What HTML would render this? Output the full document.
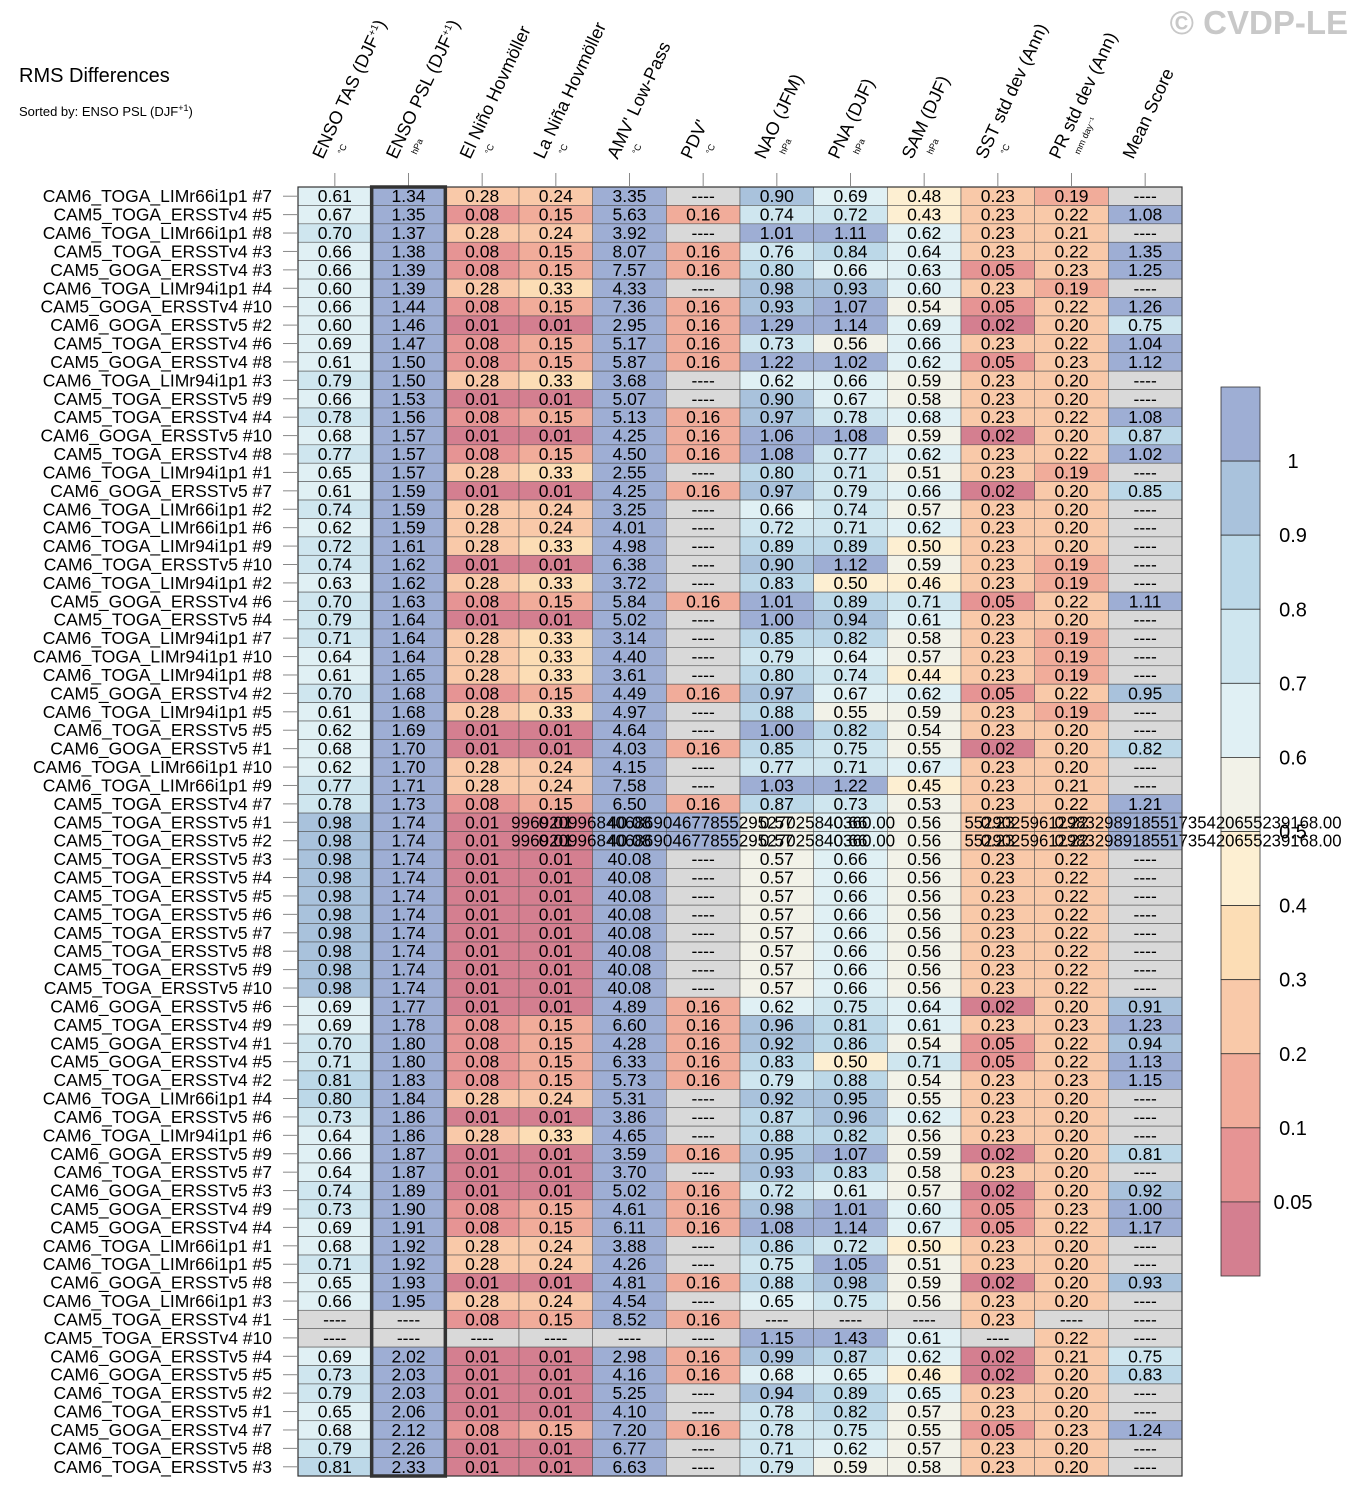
<!DOCTYPE html>
<html><head><meta charset="utf-8"><style>
html,body{margin:0;padding:0;background:#fff;}
svg{display:block;font-family:"Liberation Sans",sans-serif;}
</style></head><body>
<svg id="chart" width="1358" height="1498" xmlns="http://www.w3.org/2000/svg">
<text x="19" y="82" font-size="20">RMS Differences</text>
<text x="19" y="116" font-size="13">Sorted by: ENSO PSL (DJF<tspan dy="-5" font-size="9">+1</tspan><tspan dy="5">)</tspan></text>
<text x="1348" y="34" font-size="33" font-weight="bold" fill="#c8c8c8" text-anchor="end">© CVDP-LE</text>
<g id="cbar"></g><g id="hdr"></g><g id="cells"></g><g id="rows"></g>
</svg>
<script>
const columns=["ENSO TAS (DJF+1)","ENSO PSL (DJF+1)","El Niño Hovmöller","La Niña Hovmöller","AMV' Low-Pass","PDV'","NAO (JFM)","PNA (DJF)","SAM (DJF)","SST std dev (Ann)","PR std dev (Ann)","Mean Score"];
const units=["°C","hPa","°C","°C","°C","°C","hPa","hPa","hPa","°C","mm day⁻¹",""];
const rowNames=["CAM6_TOGA_LIMr66i1p1 #7","CAM5_TOGA_ERSSTv4 #5","CAM6_TOGA_LIMr66i1p1 #8","CAM5_TOGA_ERSSTv4 #3","CAM5_GOGA_ERSSTv4 #3","CAM6_TOGA_LIMr94i1p1 #4","CAM5_GOGA_ERSSTv4 #10","CAM6_GOGA_ERSSTv5 #2","CAM5_TOGA_ERSSTv4 #6","CAM5_GOGA_ERSSTv4 #8","CAM6_TOGA_LIMr94i1p1 #3","CAM5_TOGA_ERSSTv5 #9","CAM5_TOGA_ERSSTv4 #4","CAM6_GOGA_ERSSTv5 #10","CAM5_TOGA_ERSSTv4 #8","CAM6_TOGA_LIMr94i1p1 #1","CAM6_GOGA_ERSSTv5 #7","CAM6_TOGA_LIMr66i1p1 #2","CAM6_TOGA_LIMr66i1p1 #6","CAM6_TOGA_LIMr94i1p1 #9","CAM6_TOGA_ERSSTv5 #10","CAM6_TOGA_LIMr94i1p1 #2","CAM5_GOGA_ERSSTv4 #6","CAM5_TOGA_ERSSTv5 #4","CAM6_TOGA_LIMr94i1p1 #7","CAM6_TOGA_LIMr94i1p1 #10","CAM6_TOGA_LIMr94i1p1 #8","CAM5_GOGA_ERSSTv4 #2","CAM6_TOGA_LIMr94i1p1 #5","CAM6_TOGA_ERSSTv5 #5","CAM6_GOGA_ERSSTv5 #1","CAM6_TOGA_LIMr66i1p1 #10","CAM6_TOGA_LIMr66i1p1 #9","CAM5_TOGA_ERSSTv4 #7","CAM5_TOGA_ERSSTv5 #1","CAM5_TOGA_ERSSTv5 #2","CAM5_TOGA_ERSSTv5 #3","CAM5_TOGA_ERSSTv5 #4","CAM5_TOGA_ERSSTv5 #5","CAM5_TOGA_ERSSTv5 #6","CAM5_TOGA_ERSSTv5 #7","CAM5_TOGA_ERSSTv5 #8","CAM5_TOGA_ERSSTv5 #9","CAM5_TOGA_ERSSTv5 #10","CAM6_GOGA_ERSSTv5 #6","CAM5_TOGA_ERSSTv4 #9","CAM5_GOGA_ERSSTv4 #1","CAM5_GOGA_ERSSTv4 #5","CAM5_TOGA_ERSSTv4 #2","CAM6_TOGA_LIMr66i1p1 #4","CAM6_TOGA_ERSSTv5 #6","CAM6_TOGA_LIMr94i1p1 #6","CAM6_GOGA_ERSSTv5 #9","CAM6_TOGA_ERSSTv5 #7","CAM6_GOGA_ERSSTv5 #3","CAM5_GOGA_ERSSTv4 #9","CAM5_GOGA_ERSSTv4 #4","CAM6_TOGA_LIMr66i1p1 #1","CAM6_TOGA_LIMr66i1p1 #5","CAM6_GOGA_ERSSTv5 #8","CAM6_TOGA_LIMr66i1p1 #3","CAM5_TOGA_ERSSTv4 #1","CAM5_TOGA_ERSSTv4 #10","CAM6_GOGA_ERSSTv5 #4","CAM6_GOGA_ERSSTv5 #5","CAM6_TOGA_ERSSTv5 #2","CAM6_TOGA_ERSSTv5 #1","CAM5_GOGA_ERSSTv4 #7","CAM6_TOGA_ERSSTv5 #8","CAM6_TOGA_ERSSTv5 #3"];
const B="99692099684068690467785529527025840360.00", M="55290259612983298918551735420655239168.00";
const rowValues=[
"0.61 1.34 0.28 0.24 3.35 - 0.90 0.69 0.48 0.23 0.19 -",
"0.67 1.35 0.08 0.15 5.63 0.16 0.74 0.72 0.43 0.23 0.22 1.08",
"0.70 1.37 0.28 0.24 3.92 - 1.01 1.11 0.62 0.23 0.21 -",
"0.66 1.38 0.08 0.15 8.07 0.16 0.76 0.84 0.64 0.23 0.22 1.35",
"0.66 1.39 0.08 0.15 7.57 0.16 0.80 0.66 0.63 0.05 0.23 1.25",
"0.60 1.39 0.28 0.33 4.33 - 0.98 0.93 0.60 0.23 0.19 -",
"0.66 1.44 0.08 0.15 7.36 0.16 0.93 1.07 0.54 0.05 0.22 1.26",
"0.60 1.46 0.01 0.01 2.95 0.16 1.29 1.14 0.69 0.02 0.20 0.75",
"0.69 1.47 0.08 0.15 5.17 0.16 0.73 0.56 0.66 0.23 0.22 1.04",
"0.61 1.50 0.08 0.15 5.87 0.16 1.22 1.02 0.62 0.05 0.23 1.12",
"0.79 1.50 0.28 0.33 3.68 - 0.62 0.66 0.59 0.23 0.20 -",
"0.66 1.53 0.01 0.01 5.07 - 0.90 0.67 0.58 0.23 0.20 -",
"0.78 1.56 0.08 0.15 5.13 0.16 0.97 0.78 0.68 0.23 0.22 1.08",
"0.68 1.57 0.01 0.01 4.25 0.16 1.06 1.08 0.59 0.02 0.20 0.87",
"0.77 1.57 0.08 0.15 4.50 0.16 1.08 0.77 0.62 0.23 0.22 1.02",
"0.65 1.57 0.28 0.33 2.55 - 0.80 0.71 0.51 0.23 0.19 -",
"0.61 1.59 0.01 0.01 4.25 0.16 0.97 0.79 0.66 0.02 0.20 0.85",
"0.74 1.59 0.28 0.24 3.25 - 0.66 0.74 0.57 0.23 0.20 -",
"0.62 1.59 0.28 0.24 4.01 - 0.72 0.71 0.62 0.23 0.20 -",
"0.72 1.61 0.28 0.33 4.98 - 0.89 0.89 0.50 0.23 0.20 -",
"0.74 1.62 0.01 0.01 6.38 - 0.90 1.12 0.59 0.23 0.19 -",
"0.63 1.62 0.28 0.33 3.72 - 0.83 0.50 0.46 0.23 0.19 -",
"0.70 1.63 0.08 0.15 5.84 0.16 1.01 0.89 0.71 0.05 0.22 1.11",
"0.79 1.64 0.01 0.01 5.02 - 1.00 0.94 0.61 0.23 0.20 -",
"0.71 1.64 0.28 0.33 3.14 - 0.85 0.82 0.58 0.23 0.19 -",
"0.64 1.64 0.28 0.33 4.40 - 0.79 0.64 0.57 0.23 0.19 -",
"0.61 1.65 0.28 0.33 3.61 - 0.80 0.74 0.44 0.23 0.19 -",
"0.70 1.68 0.08 0.15 4.49 0.16 0.97 0.67 0.62 0.05 0.22 0.95",
"0.61 1.68 0.28 0.33 4.97 - 0.88 0.55 0.59 0.23 0.19 -",
"0.62 1.69 0.01 0.01 4.64 - 1.00 0.82 0.54 0.23 0.20 -",
"0.68 1.70 0.01 0.01 4.03 0.16 0.85 0.75 0.55 0.02 0.20 0.82",
"0.62 1.70 0.28 0.24 4.15 - 0.77 0.71 0.67 0.23 0.20 -",
"0.77 1.71 0.28 0.24 7.58 - 1.03 1.22 0.45 0.23 0.21 -",
"0.78 1.73 0.08 0.15 6.50 0.16 0.87 0.73 0.53 0.23 0.22 1.21",
"0.98 1.74 0.01 0.01 40.08 BIG 0.57 0.66 0.56 0.23 0.22 BIGM",
"0.98 1.74 0.01 0.01 40.08 BIG 0.57 0.66 0.56 0.23 0.22 BIGM",
"0.98 1.74 0.01 0.01 40.08 - 0.57 0.66 0.56 0.23 0.22 -",
"0.98 1.74 0.01 0.01 40.08 - 0.57 0.66 0.56 0.23 0.22 -",
"0.98 1.74 0.01 0.01 40.08 - 0.57 0.66 0.56 0.23 0.22 -",
"0.98 1.74 0.01 0.01 40.08 - 0.57 0.66 0.56 0.23 0.22 -",
"0.98 1.74 0.01 0.01 40.08 - 0.57 0.66 0.56 0.23 0.22 -",
"0.98 1.74 0.01 0.01 40.08 - 0.57 0.66 0.56 0.23 0.22 -",
"0.98 1.74 0.01 0.01 40.08 - 0.57 0.66 0.56 0.23 0.22 -",
"0.98 1.74 0.01 0.01 40.08 - 0.57 0.66 0.56 0.23 0.22 -",
"0.69 1.77 0.01 0.01 4.89 0.16 0.62 0.75 0.64 0.02 0.20 0.91",
"0.69 1.78 0.08 0.15 6.60 0.16 0.96 0.81 0.61 0.23 0.23 1.23",
"0.70 1.80 0.08 0.15 4.28 0.16 0.92 0.86 0.54 0.05 0.22 0.94",
"0.71 1.80 0.08 0.15 6.33 0.16 0.83 0.50 0.71 0.05 0.22 1.13",
"0.81 1.83 0.08 0.15 5.73 0.16 0.79 0.88 0.54 0.23 0.23 1.15",
"0.80 1.84 0.28 0.24 5.31 - 0.92 0.95 0.55 0.23 0.20 -",
"0.73 1.86 0.01 0.01 3.86 - 0.87 0.96 0.62 0.23 0.20 -",
"0.64 1.86 0.28 0.33 4.65 - 0.88 0.82 0.56 0.23 0.20 -",
"0.66 1.87 0.01 0.01 3.59 0.16 0.95 1.07 0.59 0.02 0.20 0.81",
"0.64 1.87 0.01 0.01 3.70 - 0.93 0.83 0.58 0.23 0.20 -",
"0.74 1.89 0.01 0.01 5.02 0.16 0.72 0.61 0.57 0.02 0.20 0.92",
"0.73 1.90 0.08 0.15 4.61 0.16 0.98 1.01 0.60 0.05 0.23 1.00",
"0.69 1.91 0.08 0.15 6.11 0.16 1.08 1.14 0.67 0.05 0.22 1.17",
"0.68 1.92 0.28 0.24 3.88 - 0.86 0.72 0.50 0.23 0.20 -",
"0.71 1.92 0.28 0.24 4.26 - 0.75 1.05 0.51 0.23 0.20 -",
"0.65 1.93 0.01 0.01 4.81 0.16 0.88 0.98 0.59 0.02 0.20 0.93",
"0.66 1.95 0.28 0.24 4.54 - 0.65 0.75 0.56 0.23 0.20 -",
"- - 0.08 0.15 8.52 0.16 - - - 0.23 - -",
"- - - - - - 1.15 1.43 0.61 - 0.22 -",
"0.69 2.02 0.01 0.01 2.98 0.16 0.99 0.87 0.62 0.02 0.21 0.75",
"0.73 2.03 0.01 0.01 4.16 0.16 0.68 0.65 0.46 0.02 0.20 0.83",
"0.79 2.03 0.01 0.01 5.25 - 0.94 0.89 0.65 0.23 0.20 -",
"0.65 2.06 0.01 0.01 4.10 - 0.78 0.82 0.57 0.23 0.20 -",
"0.68 2.12 0.08 0.15 7.20 0.16 0.78 0.75 0.55 0.05 0.23 1.24",
"0.79 2.26 0.01 0.01 6.77 - 0.71 0.62 0.57 0.23 0.20 -",
"0.81 2.33 0.01 0.01 6.63 - 0.79 0.59 0.58 0.23 0.20 -"];
const levels=[1,0.9,0.8,0.7,0.6,0.5,0.4,0.3,0.2,0.1,0.05];
const levelLabels=["1","0.9","0.8","0.7","0.6","0.5","0.4","0.3","0.2","0.1","0.05"];
const palette=["#9eaed4","#a9c2dc","#bcd8e8","#cfe6ef","#e0f0f4","#f2f2e8","#fdefd2","#fcddb5","#f9c9a9","#f1ac9a","#e69494","#d47f90"];

const NS="http://www.w3.org/2000/svg";
function mk(tag,attrs,parent,txt){const e=document.createElementNS(NS,tag);for(const k in attrs)e.setAttribute(k,attrs[k]);if(txt!==undefined)e.textContent=txt;parent.appendChild(e);return e;}
const X0=298,X1=1182,Y0=187,Y1=1476;
const cw=(X1-X0)/columns.length, rh=(Y1-Y0)/rowNames.length;
const xAt=i=>X0+i*cw, yAt=j=>Y0+j*rh;
function colorFor(v){for(let k=0;k<levels.length;k++){const l=levels[k];if(l===0.5?v>l+1e-9:v>=l-1e-9)return palette[k];}return palette[palette.length-1];}
const cbY0=387,cbY1=1276,cbH=(cbY1-cbY0)/palette.length;
const cbLevelY=k=>cbY0+(k+1)*cbH;

const hdr=document.getElementById('hdr'),cells=document.getElementById('cells'),rows=document.getElementById('rows'),cbar=document.getElementById('cbar');
columns.forEach((c,i)=>{
  const cx=xAt(i)+cw/2;
  const t=mk('text',{x:cx-12,y:160,'font-size':18,transform:`rotate(-65 ${cx-12} 160)`},hdr);
  
  
  const m=c.match(/^(.*)\+1\)$/);
  if(m){t.textContent=m[1];mk('tspan',{dy:-6,'font-size':10},t,'+1');mk('tspan',{dy:6},t,')');}else t.textContent=c;
  if(units[i]){const u=mk('text',{x:cx+8,y:155,'font-size':9,transform:`rotate(-65 ${cx+8} 155)`},hdr,units[i]);
    
    }
  mk('line',{x1:cx,x2:cx,y1:173,y2:186,stroke:'#888','stroke-width':1},hdr);
});
rowNames.forEach((n,j)=>{
  const cy=yAt(j)+rh/2;
  const t=mk('text',{x:272,y:cy+6,'font-size':17.5,'text-anchor':'end'},rows,n);
  
  
  mk('line',{x1:283,x2:297,y1:cy,y2:cy,stroke:'#888','stroke-width':1},rows);
  const vals=rowValues[j].split(' ');
  vals.forEach((s,i)=>{
    let fill='#d9d9d9',v=null;
    if(s==='BIG'||s==='BIGM')fill=palette[0];else if(s!=='-'){v=parseFloat(s);fill=colorFor(v);}
    const r=mk('rect',{x:xAt(i),y:yAt(j),width:cw,height:rh,fill:fill,stroke:'#555','stroke-width':0.6},cells);
    
    
  });
});
rowNames.forEach((n,j)=>{
  const cy=yAt(j)+rh/2;
  rowValues[j].split(' ').forEach((s,i)=>{
    let txt=s==='-'?'----':s==='BIG'?B:s==='BIGM'?M:s;
    let cx=xAt(i)+cw/2;
    const attrs={x:cx,y:cy+6,'font-size':17.5,'text-anchor':'middle'};
    if(s==='BIG'){attrs.textLength=384;attrs.lengthAdjust='spacingAndGlyphs';}
    if(s==='BIGM'){attrs.x=1153;attrs.textLength=377;attrs.lengthAdjust='spacingAndGlyphs';}
    const t=mk('text',attrs,cells,txt);
    
    
  });
});
mk('rect',{x:X0,y:Y0,width:X1-X0,height:Y1-Y0,fill:'none',stroke:'#333','stroke-width':1.2},cells);
const hl=mk('rect',{x:xAt(1),y:Y0,width:cw,height:Y1-Y0,fill:'none',stroke:'#333','stroke-width':3.5},cells);


palette.forEach((p,k)=>{
  const r=mk('rect',{x:1221,y:cbY0+k*cbH,width:39,height:cbH,fill:p,stroke:'#333','stroke-width':0.8},cbar);
  
  
});
levels.forEach((l,k)=>{
  const t=mk('text',{x:1293,y:cbLevelY(k)+7,'font-size':20,'text-anchor':'middle'},cbar,levelLabels[k]);
  
  
});
</script>
</body></html>
